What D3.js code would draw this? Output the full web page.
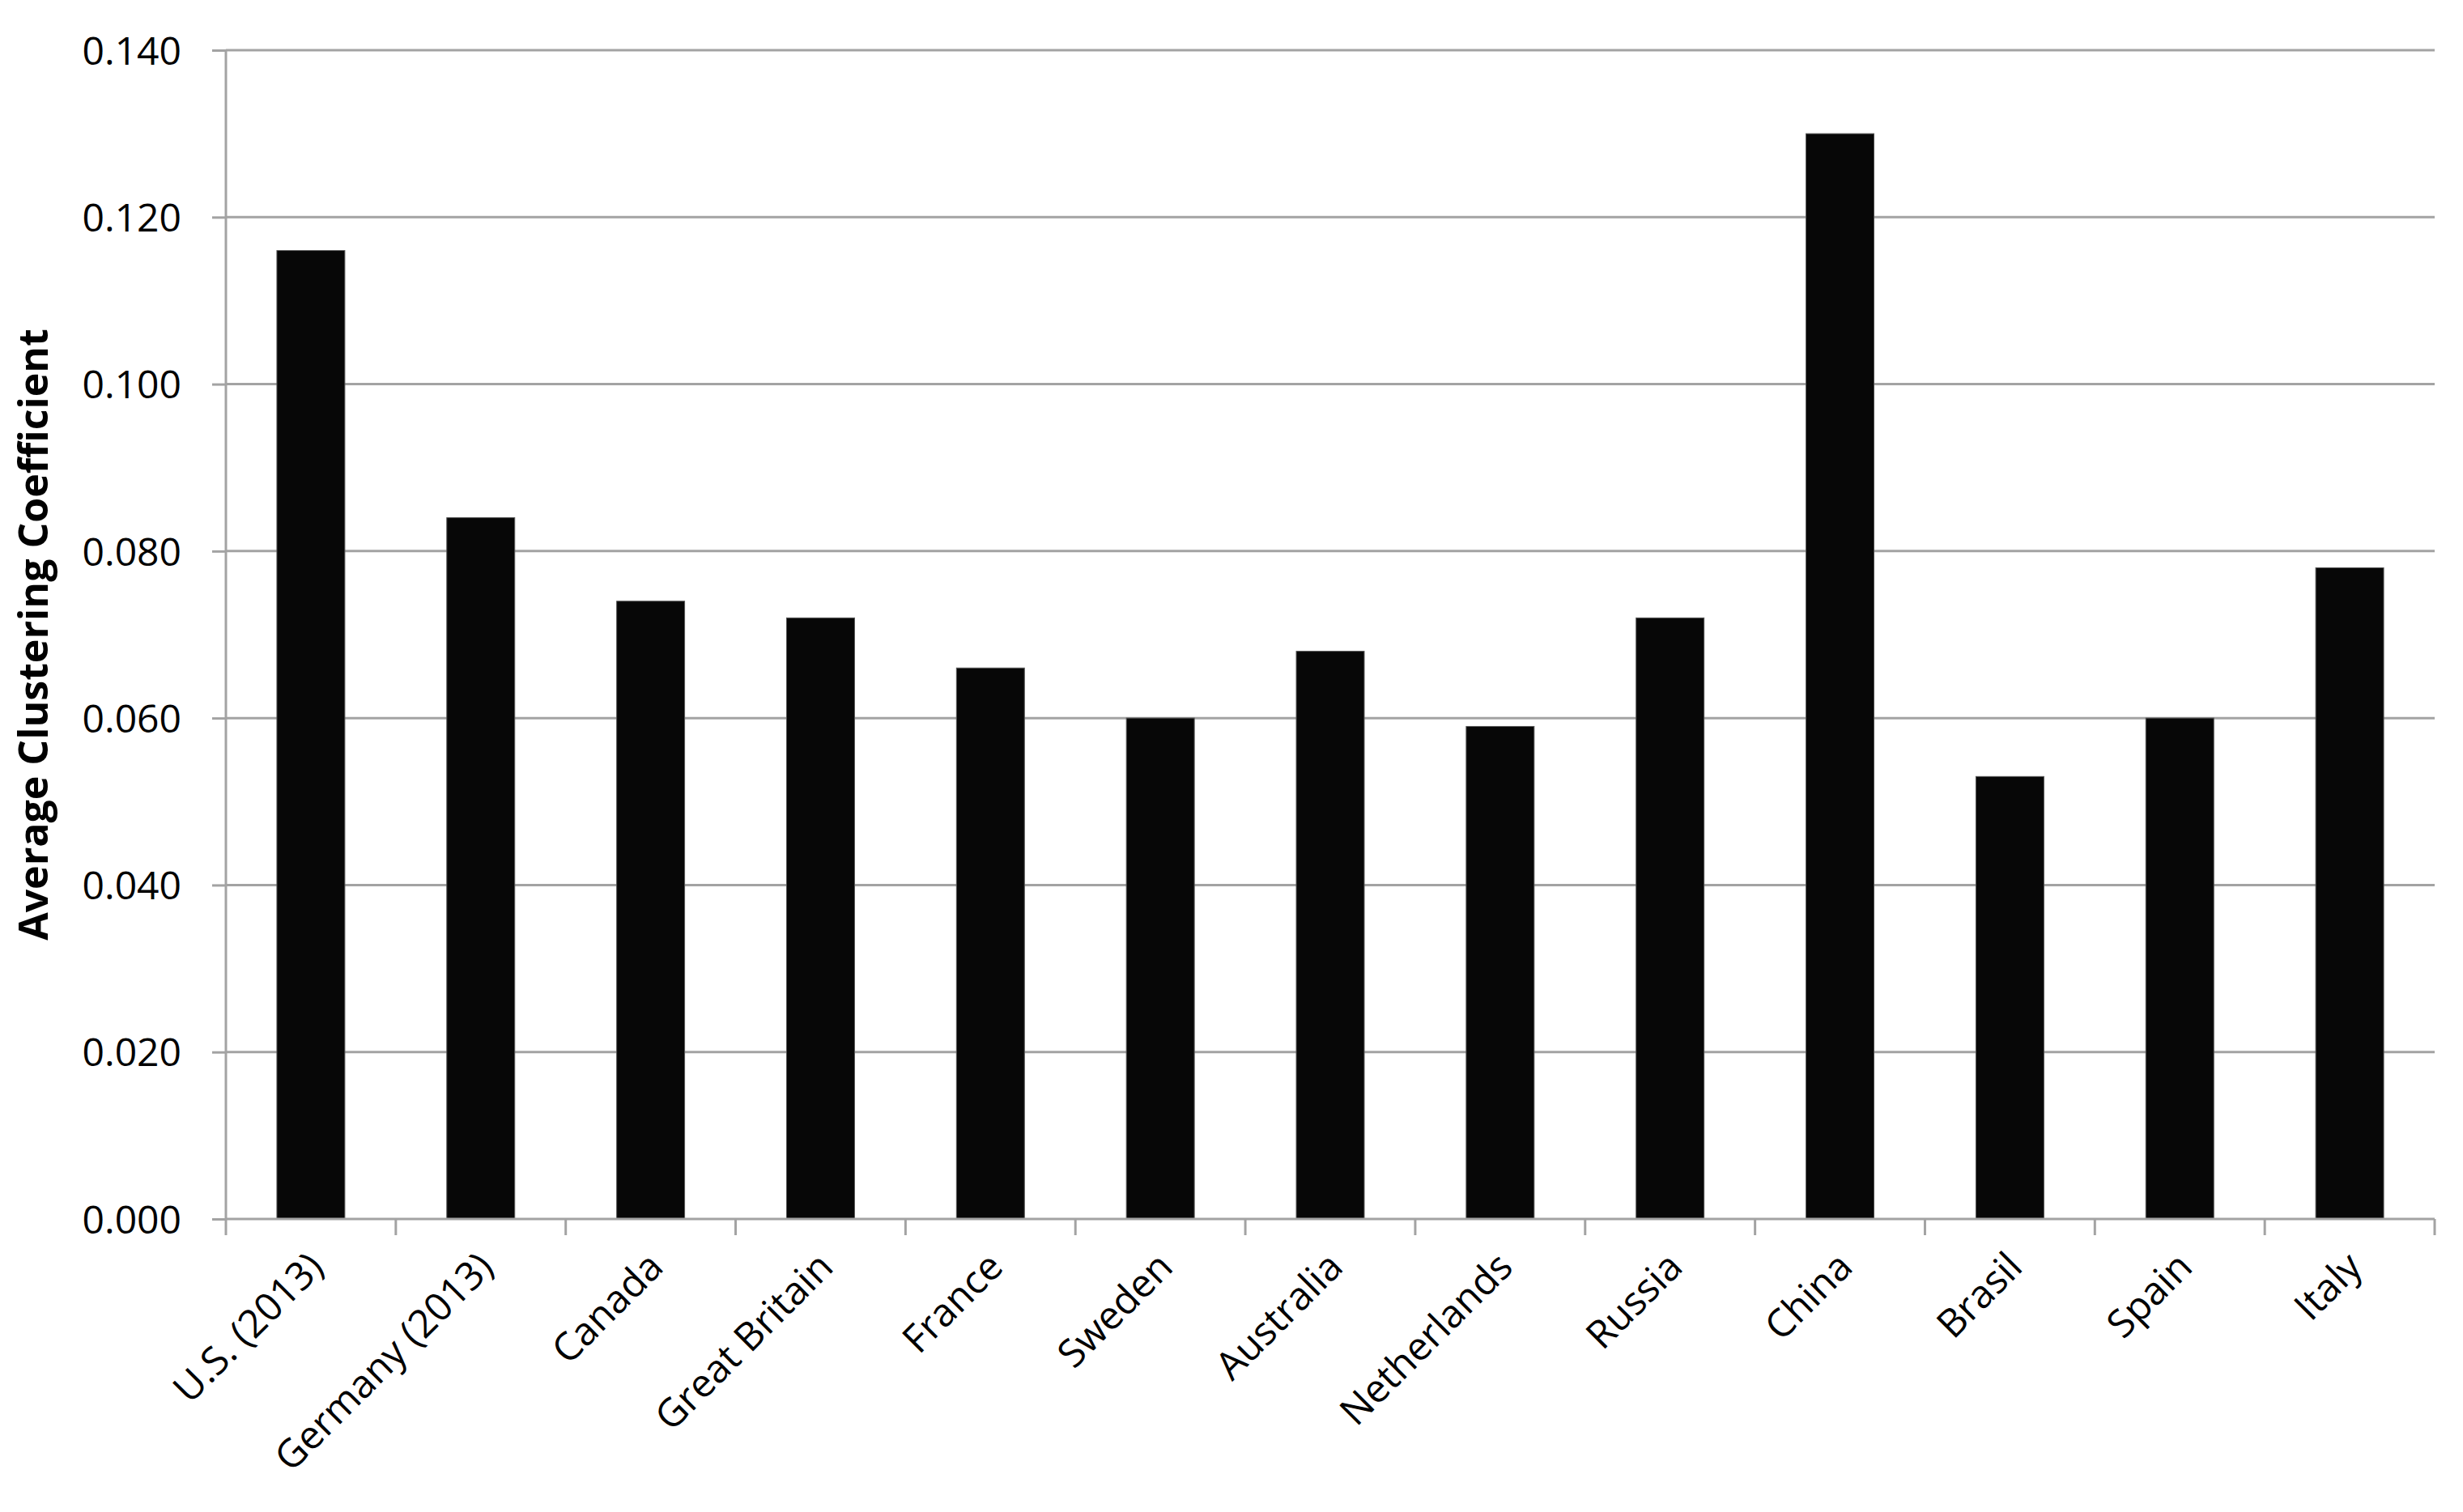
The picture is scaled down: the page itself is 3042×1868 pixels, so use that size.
<!DOCTYPE html>
<html>
<head>
<meta charset="utf-8">
<title>Average Clustering Coefficient</title>
<style>
  body { margin: 0; background: white; }
  .tick text { font-family: "Open Sans", sans-serif; fill: #000; }
</style>
</head>
<body>
<div id="chart"></div>
<script src="https://d3js.org/d3.v7.min.js"></script>
<script>
// data
var countries = ["U.S. (2013)", "Germany (2013)", "Canada", "Great Britain", "France", "Sweden",
                 "Australia", "Netherlands", "Russia", "China", "Brasil", "Spain", "Italy"];
var coefficients = [0.116, 0.084, 0.074, 0.072, 0.066, 0.060, 0.068, 0.059, 0.072, 0.130, 0.053, 0.060, 0.078];
var yTicks = [0, 0.02, 0.04, 0.06, 0.08, 0.10, 0.12, 0.14];

var W = 3042, H = 1868;
var margin = {top: 62, right: 35, bottom: 362, left: 279};
var width = W - margin.left - margin.right,
    height = H - margin.top - margin.bottom;

var svg = d3.select("#chart").append("svg")
    .attr("width", W).attr("height", H)
  .append("g")
    .attr("transform", "translate(" + margin.left + "," + margin.top + ")");

var x = d3.scaleBand().domain(countries).range([0, width])
    .paddingInner(0.6).paddingOuter(0.3);
var y = d3.scaleLinear().domain([0, 0.14]).range([height, 0]);
var step = x.step();

// gridlines
svg.append("g").selectAll("line")
    .data(yTicks.slice(1))
    .join("line")
    .attr("x1", 0).attr("x2", width)
    .attr("y1", d => y(d)).attr("y2", d => y(d))
    .attr("stroke", "#a3a3a3").attr("stroke-width", 3);

// y axis
var yAxis = svg.append("g")
    .call(d3.axisLeft(y).tickValues(yTicks).tickFormat(d3.format(".3f")).tickSize(17).tickPadding(38));
yAxis.selectAll("line, path").attr("stroke", "#a3a3a3").attr("stroke-width", 3);
yAxis.select(".domain").attr("d", "M0," + height + "V0");
yAxis.selectAll("text").style("font-size", "48px").attr("dy", "0.36em");

// bars
svg.append("g").selectAll("rect")
    .data(countries)
    .join("rect")
    .attr("x", d => x(d))
    .attr("width", x.bandwidth())
    .attr("y", (d, i) => y(coefficients[i]))
    .attr("height", (d, i) => height - y(coefficients[i]))
    .attr("fill", "#070707")
    .attr("stroke", "#555").attr("stroke-width", 1);

// x axis: baseline and ticks at category boundaries
var xb = svg.append("g").attr("transform", "translate(0," + height + ")");
xb.append("line").attr("x1", 0).attr("x2", width)
    .attr("stroke", "#a3a3a3").attr("stroke-width", 3);
xb.selectAll(".bound")
    .data(d3.range(countries.length + 1))
    .join("line")
    .attr("class", "bound")
    .attr("x1", i => i * step).attr("x2", i => i * step)
    .attr("y1", 0).attr("y2", 20)
    .attr("stroke", "#a3a3a3").attr("stroke-width", 3);

xb.selectAll(".lab")
    .data(countries)
    .join("text")
    .attr("class", "lab")
    .attr("text-anchor", "end")
    .attr("transform", d => "translate(" + (x(d) + x.bandwidth() / 2 + 18) + ",62) rotate(-45)")
    .style("font-family", "'Open Sans', sans-serif")
    .style("font-size", "48px")
    .attr("fill", "#000")
    .text(d => d);

// y title
svg.append("text")
    .attr("transform", "translate(" + (-220) + "," + (height / 2) + ") rotate(-90)")
    .attr("text-anchor", "middle")
    .style("font-family", "'Open Sans', sans-serif")
    .style("font-size", "50px")
    .style("font-weight", "bold")
    .text("Average Clustering Coefficient");
</script>
</body>
</html>
